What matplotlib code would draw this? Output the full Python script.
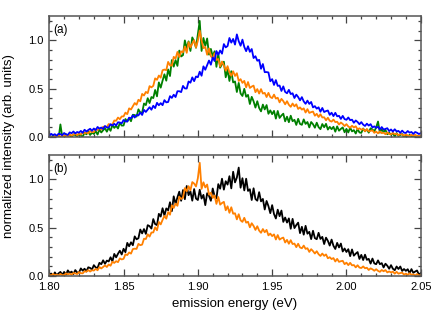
import numpy as np
import matplotlib
matplotlib.use("Agg")
import matplotlib.pyplot as plt
from matplotlib.ticker import MultipleLocator

plt.rcParams['font.family'] = ['Liberation Sans', 'DejaVu Sans']

# energy grid (eV): 1.80 .. 2.05 in steps of 0.00125 (201 samples)
energy = np.round(np.arange(1.800, 2.05001, 0.00125), 5)

# ---- panel (a) ----
green_a = [
    0.010, -0.015, 0.023, -0.002, 0.009, -0.014, 0.130, -0.001,
    -0.002, 0.029, 0.009, 0.022, -0.003, 0.028, 0.020, 0.005,
    0.038, 0.014, 0.004, 0.044, 0.028, 0.056, 0.021, 0.045,
    0.032, 0.060, 0.025, 0.078, 0.047, 0.070, 0.090, 0.055,
    0.095, 0.064, 0.125, 0.094, 0.116, 0.088, 0.146, 0.118,
    0.119, 0.186, 0.161, 0.195, 0.163, 0.230, 0.227, 0.211,
    0.286, 0.253, 0.252, 0.346, 0.330, 0.401, 0.351, 0.413,
    0.402, 0.486, 0.420, 0.564, 0.510, 0.582, 0.648, 0.582,
    0.698, 0.630, 0.795, 0.727, 0.795, 0.735, 0.893, 0.832,
    0.846, 0.998, 0.917, 0.988, 0.889, 1.029, 0.989, 0.922,
    1.062, 1.200, 0.889, 1.023, 0.941, 1.018, 0.851, 0.910,
    0.834, 0.886, 0.725, 0.862, 0.717, 0.752, 0.778, 0.617,
    0.695, 0.579, 0.680, 0.564, 0.574, 0.465, 0.559, 0.450,
    0.424, 0.498, 0.416, 0.435, 0.341, 0.415, 0.369, 0.304,
    0.370, 0.300, 0.265, 0.335, 0.285, 0.330, 0.240, 0.275,
    0.236, 0.270, 0.190, 0.269, 0.197, 0.222, 0.241, 0.162,
    0.210, 0.153, 0.220, 0.163, 0.178, 0.125, 0.188, 0.135,
    0.126, 0.182, 0.135, 0.155, 0.099, 0.155, 0.132, 0.096,
    0.148, 0.102, 0.081, 0.134, 0.101, 0.136, 0.077, 0.105,
    0.081, 0.106, 0.055, 0.110, 0.065, 0.084, 0.099, 0.049,
    0.084, 0.047, 0.096, 0.058, 0.071, 0.036, 0.083, 0.047,
    0.043, 0.088, 0.059, 0.079, 0.045, 0.090, 0.078, 0.058,
    0.100, 0.160, 0.045, 0.079, 0.052, 0.074, 0.028, 0.044,
    0.024, 0.040, 0.005, 0.041, 0.010, 0.022, 0.031, -0.004,
    0.018, -0.003, 0.023, 0.001, 0.008, -0.011, 0.014, -0.007,
    0.002,
]
orange_a = [
    0.008, -0.003, -0.007, 0.011, 0.004, 0.016, 0.002, 0.012,
    0.007, 0.020, 0.004, 0.028, 0.014, 0.025, 0.034, 0.019,
    0.036, 0.024, 0.050, 0.037, 0.047, 0.037, 0.061, 0.050,
    0.052, 0.081, 0.072, 0.089, 0.077, 0.106, 0.106, 0.103,
    0.134, 0.126, 0.129, 0.171, 0.168, 0.201, 0.184, 0.213,
    0.213, 0.252, 0.236, 0.296, 0.284, 0.318, 0.351, 0.333,
    0.385, 0.369, 0.445, 0.429, 0.466, 0.453, 0.526, 0.513,
    0.529, 0.606, 0.591, 0.635, 0.613, 0.690, 0.697, 0.691,
    0.776, 0.741, 0.737, 0.828, 0.810, 0.879, 0.826, 0.885,
    0.875, 0.935, 0.870, 0.980, 0.925, 0.965, 1.000, 0.925,
    0.995, 1.100, 0.995, 0.918, 0.930, 0.850, 0.915, 0.835,
    0.813, 0.864, 0.796, 0.806, 0.729, 0.780, 0.740, 0.686,
    0.732, 0.668, 0.632, 0.679, 0.631, 0.659, 0.579, 0.598,
    0.559, 0.580, 0.513, 0.568, 0.507, 0.521, 0.531, 0.463,
    0.495, 0.449, 0.495, 0.449, 0.456, 0.413, 0.456, 0.413,
    0.402, 0.438, 0.397, 0.406, 0.358, 0.394, 0.371, 0.338,
    0.370, 0.333, 0.312, 0.346, 0.317, 0.338, 0.290, 0.306,
    0.283, 0.296, 0.253, 0.288, 0.249, 0.257, 0.263, 0.220,
    0.240, 0.207, 0.235, 0.202, 0.204, 0.173, 0.199, 0.168,
    0.159, 0.180, 0.154, 0.158, 0.129, 0.150, 0.135, 0.113,
    0.133, 0.109, 0.096, 0.116, 0.098, 0.111, 0.080, 0.090,
    0.076, 0.084, 0.059, 0.082, 0.058, 0.064, 0.069, 0.043,
    0.056, 0.038, 0.058, 0.040, 0.045, 0.029, 0.047, 0.031,
    0.028, 0.043, 0.029, 0.034, 0.018, 0.033, 0.025, 0.014,
    0.028, 0.015, 0.009, 0.023, 0.014, 0.024, 0.007, 0.014,
    0.010,
]
blue_a = [
    0.012, 0.033, 0.020, 0.029, 0.013, 0.034, 0.029, 0.020,
    0.041, 0.027, 0.022, 0.048, 0.039, 0.057, 0.037, 0.052,
    0.045, 0.063, 0.043, 0.075, 0.057, 0.072, 0.085, 0.064,
    0.088, 0.071, 0.104, 0.086, 0.098, 0.083, 0.114, 0.098,
    0.099, 0.132, 0.119, 0.136, 0.119, 0.152, 0.150, 0.141,
    0.176, 0.161, 0.160, 0.200, 0.193, 0.224, 0.201, 0.227,
    0.223, 0.253, 0.228, 0.280, 0.259, 0.284, 0.308, 0.282,
    0.323, 0.299, 0.353, 0.328, 0.350, 0.329, 0.381, 0.358,
    0.362, 0.422, 0.404, 0.437, 0.413, 0.473, 0.473, 0.464,
    0.528, 0.502, 0.501, 0.574, 0.561, 0.616, 0.577, 0.625,
    0.618, 0.675, 0.633, 0.730, 0.695, 0.744, 0.790, 0.747,
    0.823, 0.785, 0.888, 0.850, 0.894, 0.861, 0.960, 0.926,
    0.940, 1.023, 0.975, 1.013, 0.955, 1.060, 0.990, 0.943,
    1.006, 0.931, 0.887, 0.938, 0.880, 0.909, 0.816, 0.835,
    0.788, 0.797, 0.705, 0.754, 0.670, 0.671, 0.667, 0.576,
    0.598, 0.538, 0.588, 0.528, 0.532, 0.476, 0.523, 0.466,
    0.452, 0.487, 0.444, 0.452, 0.403, 0.438, 0.413, 0.379,
    0.412, 0.368, 0.343, 0.376, 0.342, 0.362, 0.306, 0.319,
    0.293, 0.307, 0.261, 0.300, 0.258, 0.268, 0.274, 0.229,
    0.251, 0.216, 0.250, 0.214, 0.219, 0.187, 0.218, 0.185,
    0.178, 0.202, 0.174, 0.179, 0.147, 0.171, 0.155, 0.132,
    0.154, 0.128, 0.114, 0.138, 0.118, 0.133, 0.099, 0.110,
    0.095, 0.106, 0.077, 0.103, 0.077, 0.084, 0.091, 0.061,
    0.078, 0.056, 0.080, 0.058, 0.063, 0.043, 0.066, 0.045,
    0.042, 0.062, 0.045, 0.052, 0.032, 0.052, 0.044, 0.031,
    0.040,
]

# ---- panel (b) ----
black_b = [
    0.004, 0.026, -0.006, 0.037, 0.009, 0.027, 0.042, 0.011,
    0.042, 0.015, 0.058, 0.031, 0.045, 0.020, 0.061, 0.036,
    0.035, 0.078, 0.055, 0.075, 0.047, 0.090, 0.083, 0.067,
    0.112, 0.088, 0.083, 0.136, 0.122, 0.162, 0.126, 0.159,
    0.150, 0.193, 0.152, 0.228, 0.193, 0.230, 0.261, 0.222,
    0.281, 0.246, 0.342, 0.307, 0.348, 0.318, 0.409, 0.379,
    0.390, 0.480, 0.440, 0.485, 0.435, 0.525, 0.515, 0.490,
    0.588, 0.536, 0.526, 0.642, 0.614, 0.700, 0.624, 0.698,
    0.679, 0.762, 0.670, 0.823, 0.745, 0.812, 0.871, 0.777,
    0.888, 0.793, 0.930, 0.835, 0.875, 0.778, 0.898, 0.800,
    0.785, 0.891, 0.800, 0.838, 0.732, 0.855, 0.828, 0.777,
    0.904, 0.826, 0.803, 0.949, 0.902, 1.005, 0.892, 0.979,
    0.944, 1.031, 0.905, 1.077, 0.967, 1.017, 1.120, 0.912,
    1.010, 0.884, 1.005, 0.879, 0.896, 0.785, 0.906, 0.795,
    0.778, 0.866, 0.771, 0.796, 0.687, 0.775, 0.722, 0.649,
    0.732, 0.640, 0.594, 0.685, 0.618, 0.676, 0.559, 0.604,
    0.552, 0.595, 0.488, 0.590, 0.495, 0.526, 0.551, 0.443,
    0.508, 0.427, 0.518, 0.437, 0.456, 0.381, 0.467, 0.391,
    0.380, 0.446, 0.383, 0.404, 0.330, 0.396, 0.363, 0.314,
    0.376, 0.312, 0.279, 0.342, 0.295, 0.335, 0.253, 0.284,
    0.248, 0.277, 0.205, 0.274, 0.210, 0.231, 0.247, 0.176,
    0.218, 0.165, 0.220, 0.167, 0.177, 0.128, 0.180, 0.130,
    0.122, 0.161, 0.122, 0.133, 0.088, 0.127, 0.106, 0.075,
    0.112, 0.075, 0.059, 0.098, 0.072, 0.098, 0.052, 0.072,
    0.053, 0.070, 0.029, 0.071, 0.033, 0.046, 0.057, 0.015,
    0.030,
]
orange_b = [
    0.015, 0.003, 0.021, 0.009, 0.015, 0.003, 0.021, 0.009,
    0.008, 0.027, 0.017, 0.025, 0.013, 0.031, 0.027, 0.020,
    0.040, 0.029, 0.027, 0.049, 0.044, 0.061, 0.046, 0.060,
    0.056, 0.074, 0.059, 0.092, 0.078, 0.094, 0.109, 0.093,
    0.119, 0.106, 0.147, 0.135, 0.153, 0.143, 0.182, 0.171,
    0.177, 0.224, 0.216, 0.243, 0.231, 0.278, 0.282, 0.280,
    0.332, 0.318, 0.324, 0.385, 0.382, 0.431, 0.407, 0.449,
    0.450, 0.503, 0.472, 0.558, 0.533, 0.580, 0.621, 0.592,
    0.660, 0.633, 0.730, 0.703, 0.748, 0.725, 0.818, 0.795,
    0.810, 0.908, 0.875, 0.928, 0.885, 0.970, 0.955, 0.925,
    1.010, 1.170, 0.900, 0.968, 0.915, 0.945, 0.840, 0.860,
    0.806, 0.832, 0.745, 0.816, 0.737, 0.754, 0.766, 0.679,
    0.720, 0.653, 0.710, 0.643, 0.648, 0.585, 0.638, 0.575,
    0.559, 0.601, 0.551, 0.560, 0.503, 0.545, 0.517, 0.476,
    0.514, 0.469, 0.446, 0.485, 0.452, 0.476, 0.420, 0.438,
    0.412, 0.430, 0.377, 0.423, 0.376, 0.389, 0.397, 0.346,
    0.373, 0.333, 0.370, 0.330, 0.335, 0.298, 0.333, 0.295,
    0.286, 0.314, 0.280, 0.287, 0.249, 0.277, 0.257, 0.232,
    0.256, 0.225, 0.207, 0.232, 0.208, 0.223, 0.183, 0.194,
    0.175, 0.185, 0.150, 0.177, 0.146, 0.153, 0.157, 0.122,
    0.138, 0.112, 0.136, 0.110, 0.113, 0.089, 0.111, 0.087,
    0.082, 0.099, 0.080, 0.085, 0.062, 0.079, 0.069, 0.054,
    0.070, 0.053, 0.043, 0.062, 0.049, 0.061, 0.037, 0.047,
    0.037, 0.045, 0.024, 0.043, 0.024, 0.030, 0.034, 0.014,
    0.025, 0.011, 0.028, 0.013, 0.017, 0.004, 0.020, 0.006,
    0.010,
]

x_ticks = [1.80, 1.85, 1.90, 1.95, 2.00, 2.05]
x_tick_labels = ["1.80", "1.85", "1.90", "1.95", "2.00", "2.05"]
y_ticks = [0.0, 0.5, 1.0]
y_tick_labels = ["0.0", "0.5", "1.0"]
panel_labels = ["(a)", "(b)"]

GREEN = "#008000"
ORANGE = "#ff8000"
BLUE = "#0000ff"
BLACK = "#000000"

fig = plt.figure(figsize=(4.36, 3.27), dpi=100)
axa = fig.add_axes([0.113, 0.581, 0.852, 0.370])
axb = fig.add_axes([0.113, 0.156, 0.852, 0.370])

lw = 1.3
axa.plot(energy[:len(green_a)], green_a, color=GREEN, lw=lw)
axa.plot(energy[:len(orange_a)], orange_a, color=ORANGE, lw=lw)
axa.plot(energy[:len(blue_a)], blue_a, color=BLUE, lw=lw)
axb.plot(energy[:len(black_b)], black_b, color=BLACK, lw=lw)
axb.plot(energy[:len(orange_b)], orange_b, color=ORANGE, lw=lw)

for ax, lab in zip([axa, axb], panel_labels):
    ax.set_xlim(1.80, 2.05)
    ax.set_ylim(0.0, 1.25)
    ax.set_xticks(x_ticks)
    ax.set_yticks(y_ticks)
    ax.set_yticklabels(y_tick_labels)
    ax.xaxis.set_minor_locator(MultipleLocator(0.01))
    ax.yaxis.set_minor_locator(MultipleLocator(0.1))
    ax.tick_params(which='both', direction='in', top=True, right=True,
                   labelsize=8, width=0.9, color='#444444', pad=4)
    ax.tick_params(which='major', length=5)
    ax.tick_params(which='minor', length=2.5)
    for s in ax.spines.values():
        s.set_linewidth(1.1)
        s.set_color('#555555')
    ax.text(0.01, 0.93, lab, transform=ax.transAxes, fontsize=8.5,
            ha='left', va='top')

axa.tick_params(labelbottom=False)
axb.set_xticklabels(x_tick_labels)
axb.set_xlabel("emission energy (eV)", fontsize=9.5, labelpad=5)
fig.text(0.02, 0.553, "normalized intensity (arb. units)", rotation=90,
         ha='center', va='center', fontsize=9.5)

fig.savefig("out.png", dpi=100)
